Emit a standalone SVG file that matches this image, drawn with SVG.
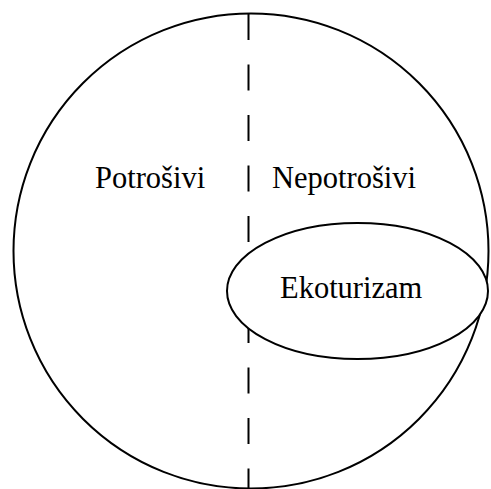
<svg xmlns="http://www.w3.org/2000/svg" width="491" height="489" viewBox="0 0 491 489">
<style>
.s{fill:none;stroke:#000;stroke-width:2}
.t{font-family:"Liberation Serif","Times New Roman",serif;font-size:30.5px;fill:#000}
</style>
<rect width="491" height="489" fill="#fff"/>
<g id="outer">
<circle class="s" cx="251" cy="251" r="237.5"/>
</g>
<g id="connectors">
<line class="s" x1="248.5" y1="14" x2="248.5" y2="488" stroke-dasharray="26 24.5"/>
</g>
<g id="potrosivi"><text class="t" x="95" y="188">Potrošivi</text></g>
<g id="nepotrosivi"><text class="t" x="272" y="188">Nepotrošivi</text></g>
<g id="ekoturizam">
<ellipse cx="357.5" cy="291" rx="130.5" ry="68" fill="#fff" stroke="#000" stroke-width="2"/>
<text class="t" x="280" y="298">Ekoturizam</text>
</g>
</svg>
